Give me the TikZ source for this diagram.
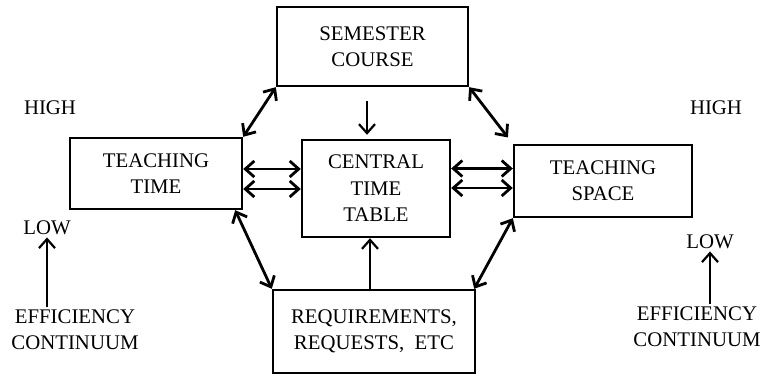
\documentclass[tikz,border=0pt]{standalone}
\usepackage{fontspec}
\setmainfont{Liberation Serif}
\usetikzlibrary{arrows.meta}
\tikzset{
  box/.style = {draw, line width=1.2pt, align=center, inner sep=2pt},
  lbl/.style = {align=center, inner sep=1pt},
  dbl/.style = {{Straight Barb[length=4.5pt,width=8pt]}-{Straight Barb[length=4.5pt,width=8pt]}, line width=1.4pt},
  sgl/.style = {-{Straight Barb[length=4.5pt,width=8pt]}, line width=1.1pt}
}

\begin{document}
\begin{tikzpicture}[x=0.5pt, y=-0.5pt, font=\fontsize{10.4}{13.2}\selectfont]
\useasboundingbox (0,0) rectangle (765,374);
\node[box, minimum width=95.5pt, minimum height=39.5pt](sc) at (372.5,46.5){SEMESTER\\COURSE};
\node[box, minimum width=86pt, minimum height=35.5pt](tt) at (156,173.5){TEACHING\\TIME};
\node[box, minimum width=74pt, minimum height=48.5pt](ct) at (376,188.5){CENTRAL\\TIME\\TABLE};
\node[box, minimum width=89pt, minimum height=36pt](ts) at (603,181){TEACHING\\SPACE};
\node[box, minimum width=101pt, minimum height=41.5pt](rq) at (374,331.5){REQUIREMENTS,\\REQUESTS,\ \ ETC};
\node[lbl](hl) at (50,108){HIGH};
\node[lbl](hr) at (716,108){HIGH};
\node[lbl](ll) at (47,228){LOW};
\node[lbl](lr) at (710,242){LOW};
\node[lbl](el) at (75,330){EFFICIENCY\\CONTINUUM};
\node[lbl](er) at (697,327){EFFICIENCY\\CONTINUUM};
\draw [dbl](tt.north east) -- (sc.south west);
\draw [dbl, shorten >=4pt](sc.south east) -- (ts.north west);
\draw [dbl]([xshift=-4pt]tt.south east) -- (rq.north west);
\draw [dbl]([xshift=-1pt]rq.north east) -- (ts.south west);
\draw [dbl]([yshift=2.25pt]tt.east) -- ([yshift=2.25pt]tt.east -| ct.west);
\draw [dbl]([yshift=-7.75pt]tt.east) -- ([yshift=-7.75pt]tt.east -| ct.west);
\draw [dbl]([yshift=10pt]ct.east) -- ([yshift=10pt]ct.east -| ts.west);
\draw [dbl]([yshift=0.25pt]ct.east) -- ([yshift=0.25pt]ct.east -| ts.west);
\draw [sgl, shorten <=7pt, shorten >=2pt]([xshift=-2.75pt]sc.south) -- ([xshift=-2.75pt]sc.south |- ct.north);
\draw [sgl]([xshift=-2pt]rq.north) -- ([xshift=-2pt]rq.north |- ct.south);
\draw [sgl](ll.south |- el.north) -- (ll.south);
\draw [sgl](lr.south |- er.north) -- (lr.south);
\end{tikzpicture}
\end{document}
